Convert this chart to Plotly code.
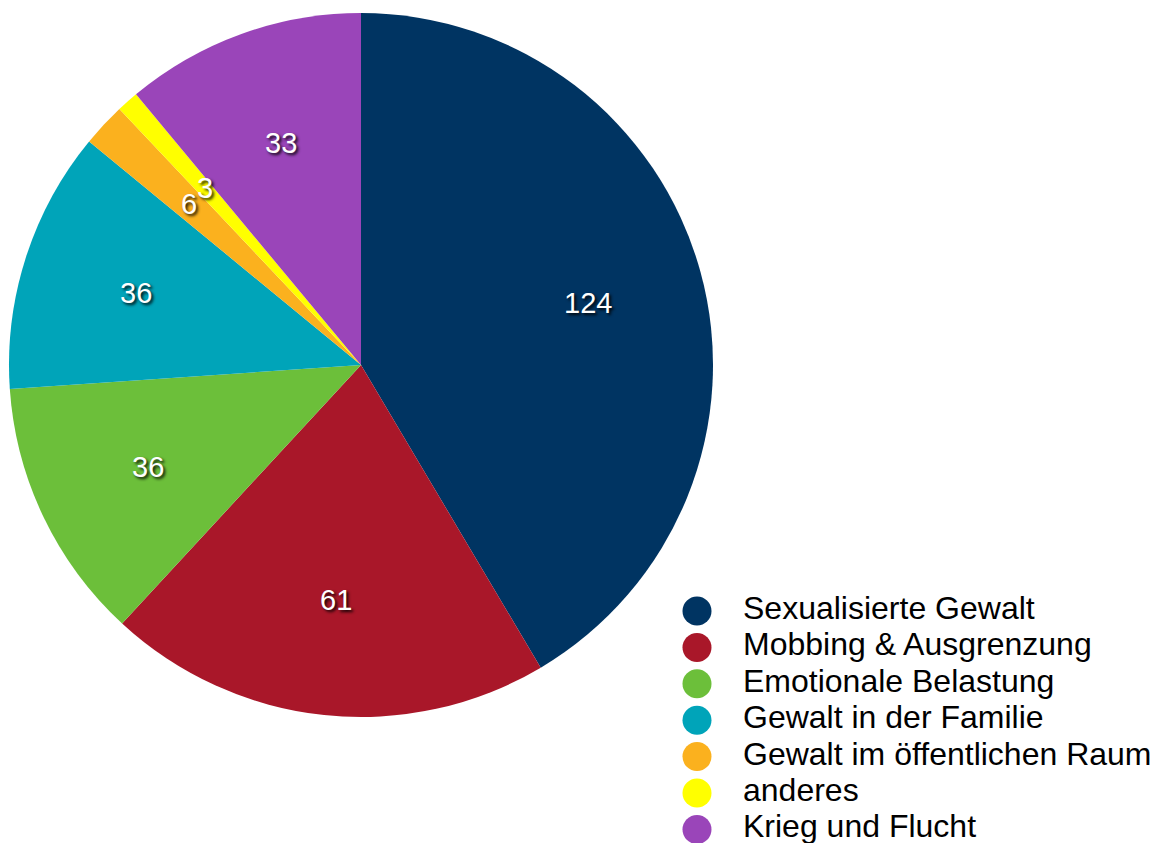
import math
import plotly.graph_objects as go

categories = ["Sexualisierte Gewalt", "Mobbing & Ausgrenzung", "Emotionale Belastung",
              "Gewalt in der Familie", "Gewalt im öffentlichen Raum", "anderes", "Krieg und Flucht"]
values = [124, 61, 36, 36, 6, 3, 33]
colors = ["#003462", "#a91729", "#6cbf3a", "#00a4b9", "#fbb11e", "#ffff00", "#9a45b9"]

W, H = 1159, 843
OFF = 8  # page body margin
CX, CY, R = 361 - OFF, 365 - OFF, 352  # pie centre / radius in figure px
FONT = "Arial, Liberation Sans, sans-serif"

fig = go.Figure()

fig.add_trace(go.Pie(
    labels=categories, values=values, sort=False, direction="clockwise", rotation=0,
    marker=dict(colors=colors, line=dict(width=0)), textinfo="none", showlegend=False,
    domain=dict(x=[(CX - R) / W, (CX + R) / W], y=[1 - (CY + R) / H, 1 - (CY - R) / H]),
))

# value labels at 2/3 of the radius, at the middle angle of each slice
total = sum(values)
cum = 0
for v in values:
    mid = (cum + v / 2) / total * 2 * math.pi
    px = CX + 0.67 * R * math.sin(mid)
    py = CY - 0.67 * R * math.cos(mid)
    fig.add_annotation(
        x=px / W, y=1 - py / H, xref="paper", yref="paper", text=str(v), showarrow=False,
        xanchor="center", yanchor="middle",
        font=dict(family=FONT, size=29, color="white", shadow="2px 2px 3px rgba(0,0,0,0.9)"),
    )
    cum += v

# legend with circular markers
idx = list(range(len(categories)))
fig.add_trace(go.Scatter(
    x=[0] * len(idx), y=idx, mode="markers",
    marker=dict(size=29, color=colors, line=dict(width=0)),
    xaxis="x2", yaxis="y2", showlegend=False, hoverinfo="skip",
))
fig.add_trace(go.Scatter(
    x=[1] * len(idx), y=idx, mode="text", text=categories, textposition="middle right",
    textfont=dict(family=FONT, size=32, color="black"),
    xaxis="x2", yaxis="y2", showlegend=False, hoverinfo="skip",
))

hid = dict(visible=False, showgrid=False, zeroline=False, fixedrange=True)
MX, ROW0, DX, DY = 697 - OFF, 611 - OFF, 46, 36.4
fig.update_layout(
    xaxis2=dict(domain=[0, 1], range=[-MX / DX, (W - MX) / DX], anchor="y2", **hid),
    yaxis2=dict(domain=[0, 1], range=[(H - ROW0) / DY, -ROW0 / DY], anchor="x2", **hid),
    width=W, height=H, margin=dict(l=0, r=0, t=0, b=0),
    paper_bgcolor="white", plot_bgcolor="rgba(0,0,0,0)",
)

fig.write_html("out.html")
